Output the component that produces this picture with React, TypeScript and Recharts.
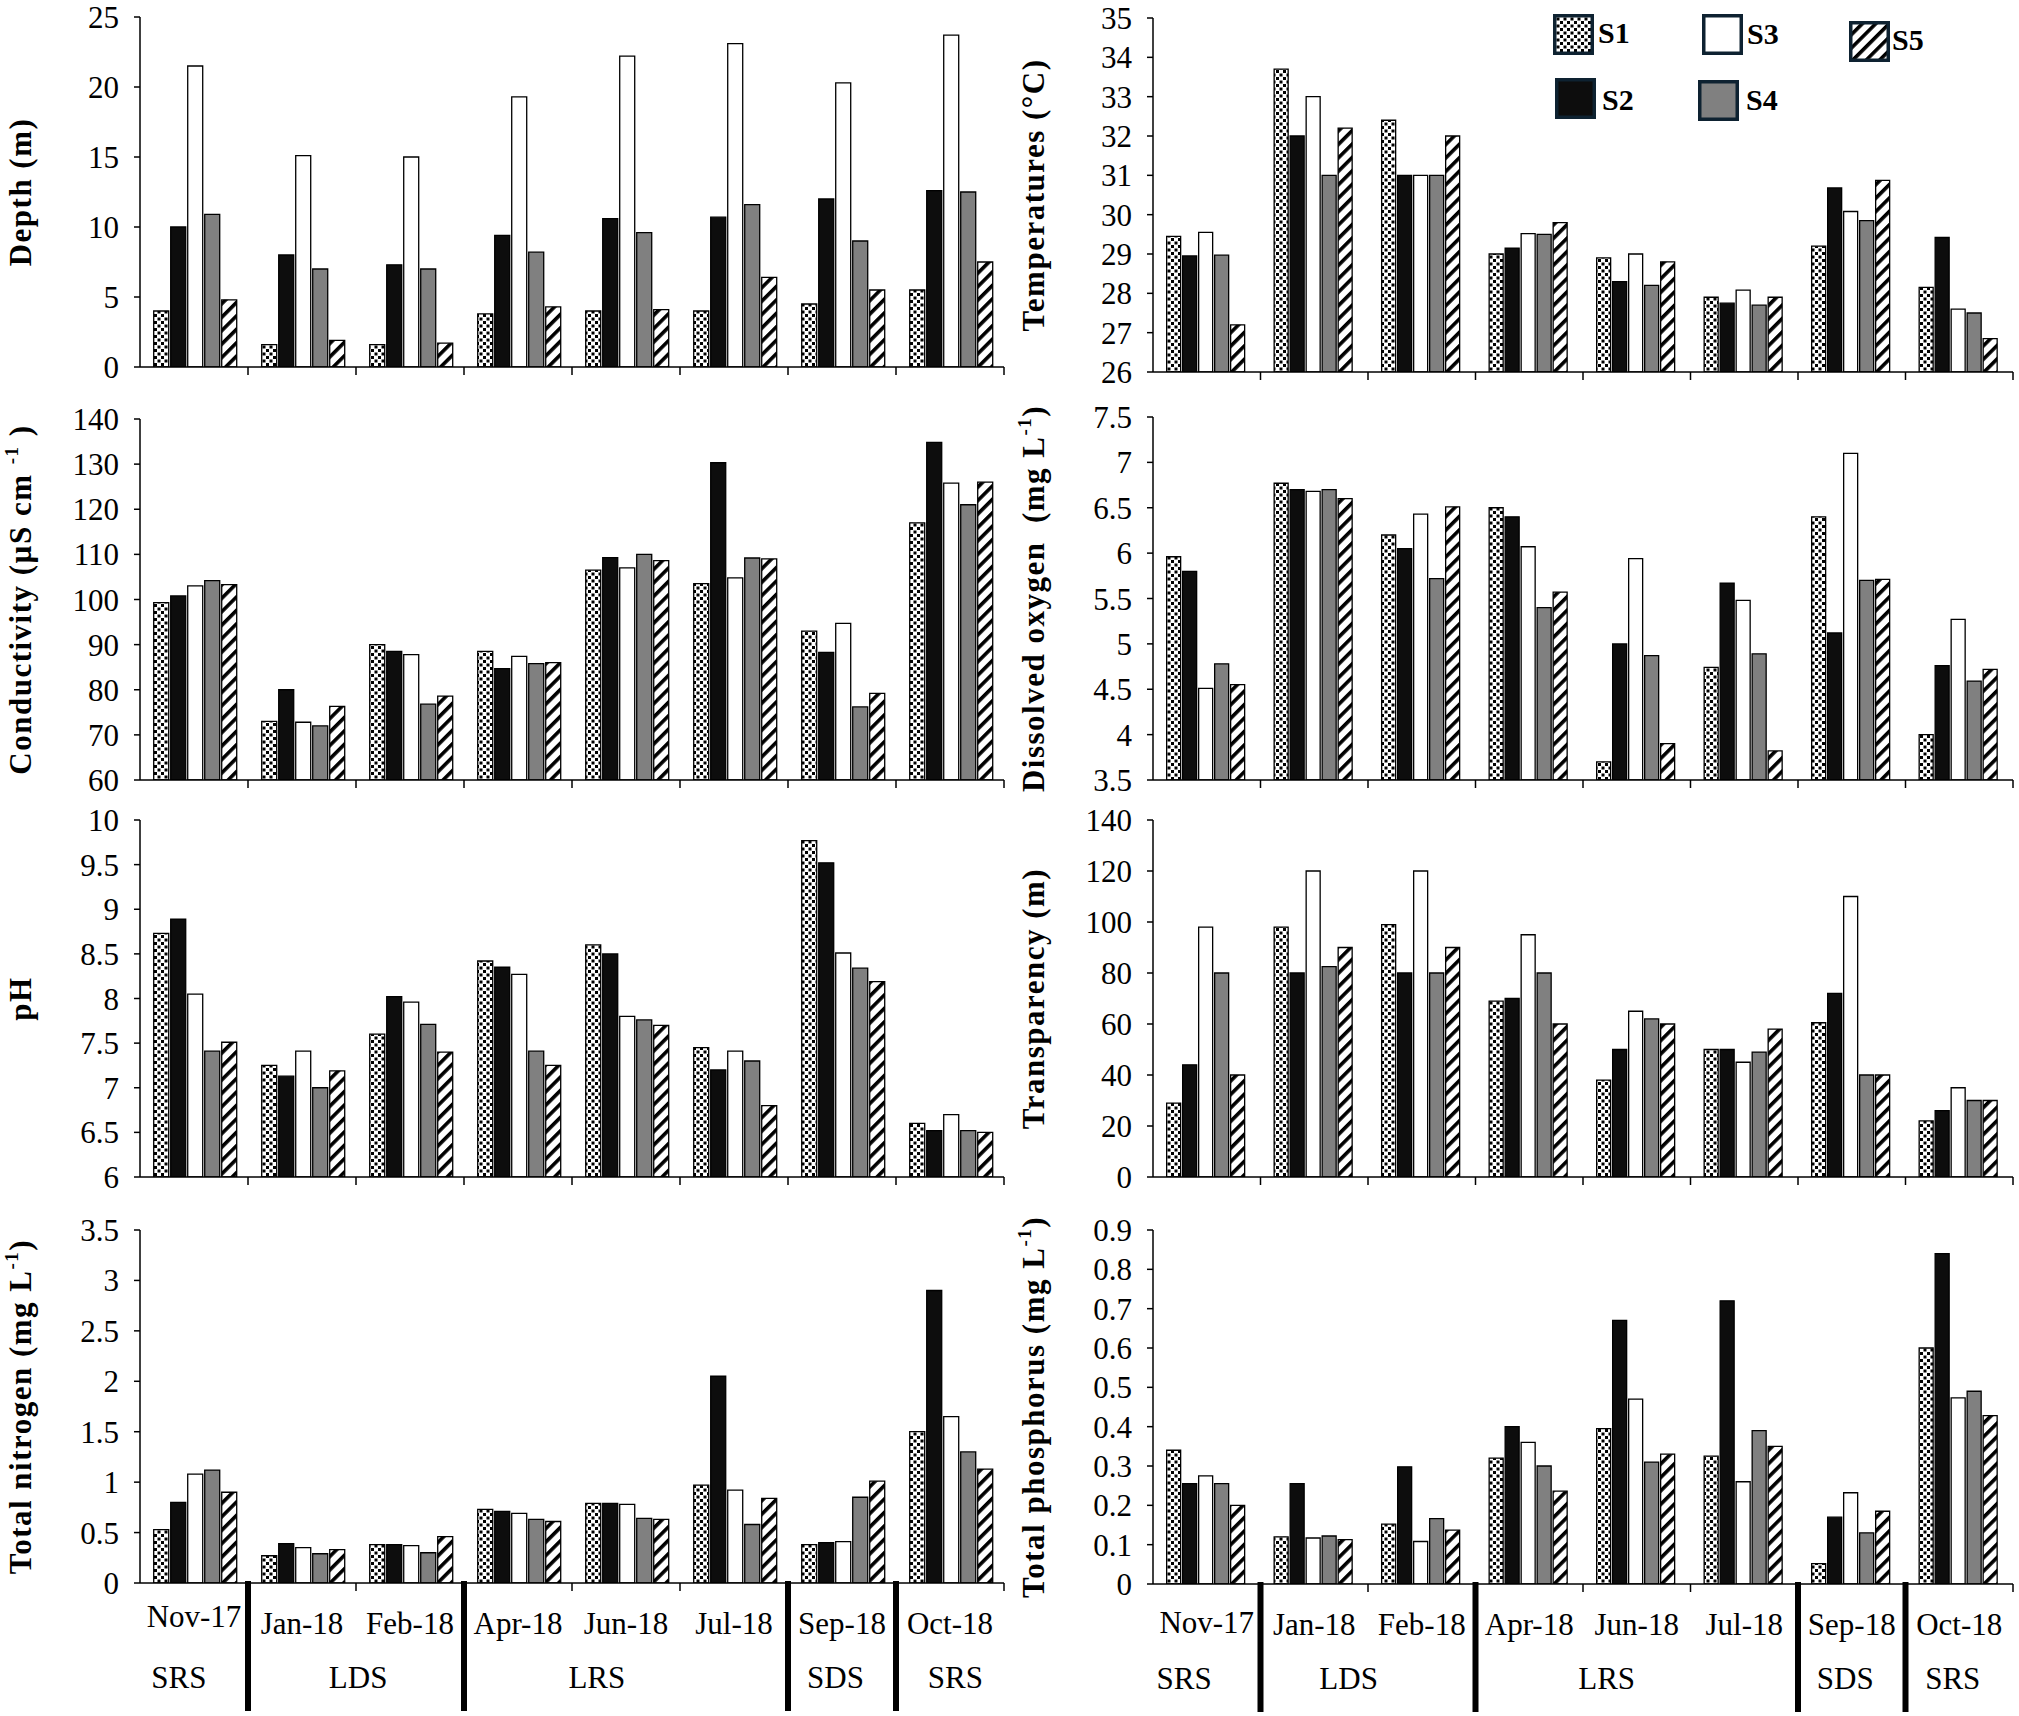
import React from 'react';
import { BarChart, Bar, XAxis, YAxis } from 'recharts';

const SERIF = '"Liberation Serif", "Times New Roman", serif';

const MONTHS = ['Nov-17', 'Jan-18', 'Feb-18', 'Apr-18', 'Jun-18', 'Jul-18', 'Sep-18', 'Oct-18'];
const SEASONS = ['SRS', 'LDS', 'LRS', 'SDS', 'SRS'];
const SEASON_POS_LEFT = [0.36, 2.02, 4.23, 6.44, 7.55];
const SEASON_POS_RIGHT = [0.29, 1.82, 4.22, 6.44, 7.44];
const SEPARATOR_BEFORE = [1, 3, 6, 7];
const SERIES = ['S1', 'S2', 'S3', 'S4', 'S5'];

// Depth (m)
const DEPTH_S1 = [4, 1.6, 1.6, 3.8, 4, 4, 4.5, 5.5];
const DEPTH_S2 = [10, 8, 7.3, 9.4, 10.6, 10.7, 12, 12.6];
const DEPTH_S3 = [21.5, 15.1, 15, 19.3, 22.2, 23.1, 20.3, 23.7];
const DEPTH_S4 = [10.9, 7, 7, 8.2, 9.6, 11.6, 9, 12.5];
const DEPTH_S5 = [4.8, 1.9, 1.7, 4.3, 4.1, 6.4, 5.5, 7.5];
const DEPTH_TICKS = [0, 5, 10, 15, 20, 25];

// Temperature (°C)
const TEMP_S1 = [29.45, 33.7, 32.4, 29, 28.9, 27.9, 29.2, 28.15];
const TEMP_S2 = [28.95, 32, 31, 29.15, 28.3, 27.75, 30.68, 29.42];
const TEMP_S3 = [29.55, 33, 31, 29.52, 29, 28.08, 30.08, 27.6];
const TEMP_S4 = [28.97, 31, 31, 29.5, 28.2, 27.7, 29.85, 27.5];
const TEMP_S5 = [27.2, 32.2, 32, 29.8, 28.8, 27.9, 30.87, 26.85];
const TEMP_TICKS = [26, 27, 28, 29, 30, 31, 32, 33, 34, 35];

// Conductivity (µS/cm)
const COND_S1 = [99.3, 73, 90, 88.5, 106.5, 103.5, 93, 117];
const COND_S2 = [100.8, 80, 88.5, 84.7, 109.3, 130.3, 88.3, 134.8];
const COND_S3 = [103, 72.8, 87.8, 87.4, 107, 104.8, 94.7, 125.8];
const COND_S4 = [104.2, 72, 76.8, 85.8, 110, 109.2, 76.2, 121];
const COND_S5 = [103.3, 76.3, 78.6, 86, 108.6, 109, 79.2, 126];
const COND_TICKS = [60, 70, 80, 90, 100, 110, 120, 130, 140];

// Dissolved oxygen (mg/L)
const DO_S1 = [5.96, 6.77, 6.2, 6.5, 3.7, 4.74, 6.4, 4.0];
const DO_S2 = [5.8, 6.7, 6.05, 6.4, 5.0, 5.67, 5.12, 4.76];
const DO_S3 = [4.51, 6.68, 6.43, 6.07, 5.94, 5.48, 7.1, 5.27];
const DO_S4 = [4.78, 6.7, 5.72, 5.4, 4.87, 4.89, 5.7, 4.59];
const DO_S5 = [4.55, 6.6, 6.51, 5.57, 3.9, 3.82, 5.71, 4.72];
const DO_TICKS = [3.5, 4, 4.5, 5, 5.5, 6, 6.5, 7, 7.5];

// pH
const PH_S1 = [8.73, 7.25, 7.6, 8.42, 8.6, 7.45, 9.77, 6.6];
const PH_S2 = [8.89, 7.13, 8.02, 8.35, 8.5, 7.2, 9.52, 6.52];
const PH_S3 = [8.05, 7.41, 7.96, 8.27, 7.8, 7.41, 8.51, 6.7];
const PH_S4 = [7.41, 7.0, 7.71, 7.41, 7.76, 7.3, 8.34, 6.52];
const PH_S5 = [7.51, 7.19, 7.4, 7.25, 7.7, 6.8, 8.19, 6.5];
const PH_TICKS = [6, 6.5, 7, 7.5, 8, 8.5, 9, 9.5, 10];

// Transparency (m)
const TRANS_S1 = [29, 98, 99, 69, 38, 50, 60.5, 22];
const TRANS_S2 = [44, 80, 80, 70, 50, 50, 72, 26];
const TRANS_S3 = [98, 120, 120, 95, 65, 45, 110, 35];
const TRANS_S4 = [80, 82.5, 80, 80, 62, 49, 40, 30];
const TRANS_S5 = [40, 90, 90, 60, 60, 58, 40, 30];
const TRANS_TICKS = [0, 20, 40, 60, 80, 100, 120, 140];

// Total nitrogen (mg/L)
const TN_S1 = [0.53, 0.27, 0.38, 0.73, 0.79, 0.97, 0.38, 1.5];
const TN_S2 = [0.8, 0.39, 0.38, 0.71, 0.79, 2.05, 0.4, 2.9];
const TN_S3 = [1.08, 0.35, 0.37, 0.69, 0.78, 0.92, 0.41, 1.65];
const TN_S4 = [1.12, 0.29, 0.3, 0.63, 0.64, 0.58, 0.85, 1.3];
const TN_S5 = [0.9, 0.33, 0.46, 0.61, 0.63, 0.84, 1.01, 1.13];
const TN_TICKS = [0, 0.5, 1, 1.5, 2, 2.5, 3, 3.5];

// Total phosphorus (mg/L)
const TP_S1 = [0.34, 0.12, 0.152, 0.32, 0.395, 0.325, 0.052, 0.6];
const TP_S2 = [0.255, 0.255, 0.298, 0.4, 0.67, 0.72, 0.17, 0.84];
const TP_S3 = [0.275, 0.117, 0.108, 0.36, 0.47, 0.26, 0.232, 0.473];
const TP_S4 = [0.255, 0.122, 0.166, 0.3, 0.31, 0.39, 0.13, 0.49];
const TP_S5 = [0.2, 0.113, 0.137, 0.236, 0.33, 0.35, 0.185, 0.428];
const TP_TICKS = [0, 0.1, 0.2, 0.3, 0.4, 0.5, 0.6, 0.7, 0.8, 0.9];

const SIDES = {
  left: { left: 0, width: 1010, yAxisWidth: 140, marginRight: 6, labelX: 20, seasonPos: SEASON_POS_LEFT, novNudge: -7 },
  right: { left: 1010, width: 1009, yAxisWidth: 143, marginRight: 6, labelX: 23, seasonPos: SEASON_POS_RIGHT, novNudge: -2 },
};

const TOP_PAD = 18;

function Patterns({ id }: { id: string }) {
  return (
    <defs>
      <pattern id={`dots-${id}`} patternUnits="userSpaceOnUse" width={7} height={7}>
        <rect width={7} height={7} fill="#fff" />
        <rect x={0} y={0} width={3} height={3} fill="#000" />
        <rect x={3.5} y={3.5} width={3} height={3} fill="#000" />
      </pattern>
      <pattern id={`hatch-${id}`} patternUnits="userSpaceOnUse" width={9.5} height={9.5} patternTransform="rotate(45)">
        <rect width={9.5} height={9.5} fill="#fff" />
        <rect width={3.6} height={9.5} fill="#000" />
      </pattern>
    </defs>
  );
}

function fills(id: string) {
  return [`url(#dots-${id})`, '#0d0d0d', '#ffffff', '#808080', `url(#hatch-${id})`];
}

function YLabel(props: any) {
  const { lx, ly, parts } = props;
  return (
    <text
      x={lx}
      y={ly}
      transform={`rotate(-90 ${lx} ${ly})`}
      textAnchor="middle"
      dominantBaseline="central"
      fontFamily={SERIF}
      fontWeight="bold"
      fontSize={31}
      letterSpacing={1.5}
      fill="#000"
      style={{ whiteSpace: 'pre' }}
    >
      {parts}
    </text>
  );
}

function MonthTick(props: any) {
  const { x, y, payload, index, band, bottom, seasonPos, novNudge } = props;
  const right = x + band / 2;
  return (
    <g>
      <line x1={right} x2={right} y1={y} y2={y + 8} stroke="#000" strokeWidth={1.5} />
      {bottom && (
        <text
          x={x}
          y={y + 40 + (index === 0 ? novNudge : 0)}
          textAnchor="middle"
          dominantBaseline="central"
          fontFamily={SERIF}
          fontSize={31}
          fill="#000"
        >
          {payload.value}
        </text>
      )}
      {bottom && SEPARATOR_BEFORE.includes(index) && (
        <line x1={x - band / 2} x2={x - band / 2} y1={y - 2} y2={y + 128} stroke="#000" strokeWidth={6} />
      )}
      {bottom &&
        index === 0 &&
        SEASONS.map((s, k) => (
          <text
            key={k}
            x={x - band / 2 + seasonPos[k] * band}
            y={y + 94}
            textAnchor="middle"
            dominantBaseline="central"
            fontFamily={SERIF}
            fontSize={31}
            fill="#000"
          >
            {s}
          </text>
        ))}
    </g>
  );
}

type PanelProps = {
  id: string;
  side: 'left' | 'right';
  plotTop: number;
  plotBottom: number;
  bottom?: boolean;
  series: number[][];
  domain: [number, number];
  ticks: number[];
  label: React.ReactNode;
};

function Panel({ id, side, plotTop, plotBottom, bottom, series, domain, ticks, label }: PanelProps) {
  const geo = SIDES[side];
  const top = plotTop - TOP_PAD;
  const xh = bottom ? 134 : 24;
  const height = plotBottom - top + xh;
  const data = MONTHS.map((m, i) => {
    const row: any = { month: m };
    SERIES.forEach((s, k) => {
      row[s] = series[k][i];
    });
    return row;
  });
  const band = (geo.width - geo.yAxisWidth - geo.marginRight) / MONTHS.length;
  const f = fills(id);
  const ly = (plotTop + plotBottom) / 2 - top;
  return (
    <div style={{ position: 'absolute', left: geo.left, top }}>
      <BarChart
        width={geo.width}
        height={height}
        data={data}
        margin={{ top: TOP_PAD, right: geo.marginRight, bottom: 0, left: 0 }}
        barCategoryGap="12.7%"
        barGap={2}
      >
        <Patterns id={id} />
        <XAxis
          dataKey="month"
          height={xh}
          interval={0}
          tickSize={0}
          tickMargin={0}
          tickLine={false}
          axisLine={{ stroke: '#000', strokeWidth: 1.5 }}
          tick={<MonthTick band={band} bottom={bottom} seasonPos={geo.seasonPos} novNudge={geo.novNudge} />}
        />
        <YAxis
          width={geo.yAxisWidth}
          domain={domain}
          ticks={ticks}
          interval={0}
          allowDataOverflow
          tickSize={6}
          tickMargin={15}
          axisLine={{ stroke: '#000', strokeWidth: 1.5 }}
          tickLine={{ stroke: '#000', strokeWidth: 1.5 }}
          tick={{ fontFamily: SERIF, fontSize: 31, fill: '#000' }}
          label={<YLabel lx={geo.labelX} ly={ly} parts={label} />}
        />
        {SERIES.map((s, k) => (
          <Bar key={s} dataKey={s} fill={f[k]} stroke="#000" strokeWidth={1.3} isAnimationActive={false} />
        ))}
      </BarChart>
    </div>
  );
}

const sup = (txt: string, after: string) => [
  <tspan key="a" dy={-9} fontSize={19}>{txt}</tspan>,
  <tspan key="b" dy={9}>{after}</tspan>,
];

const LEGEND_ITEMS = [
  { k: 0, bx: 1553, by: 14, tx: 1598, ty: 33 },
  { k: 2, bx: 1702, by: 14, tx: 1747, ty: 34 },
  { k: 4, bx: 1849, by: 21, tx: 1892, ty: 40 },
  { k: 1, bx: 1555, by: 78, tx: 1602, ty: 100 },
  { k: 3, bx: 1698, by: 80, tx: 1746, ty: 100 },
];

function Legend() {
  const f = fills('lg');
  return (
    <>
      {LEGEND_ITEMS.map((it) => (
        <React.Fragment key={it.k}>
          <svg width={41} height={41} style={{ position: 'absolute', left: it.bx, top: it.by }}>
            <Patterns id={`lg${it.k}`} />
            <rect
              x={1.75}
              y={1.75}
              width={37.5}
              height={37.5}
              fill={it.k === 0 ? `url(#dots-lg${it.k})` : it.k === 4 ? `url(#hatch-lg${it.k})` : f[it.k]}
              stroke="#0e2231"
              strokeWidth={3.5}
            />
          </svg>
          <div
            style={{
              position: 'absolute',
              left: it.tx,
              top: it.ty - 18,
              height: 36,
              lineHeight: '36px',
              fontFamily: SERIF,
              fontWeight: 'bold',
              fontSize: 30,
              color: '#000',
            }}
          >
            {SERIES[it.k]}
          </div>
        </React.Fragment>
      ))}
    </>
  );
}

export default function App() {
  return (
    <div
      style={{
        position: 'absolute',
        left: 0,
        top: 0,
        width: 2019,
        height: 1716,
        background: '#fff',
        overflow: 'hidden',
      }}
    >
      <Panel id="depth" side="left" plotTop={17} plotBottom={367}
        series={[DEPTH_S1, DEPTH_S2, DEPTH_S3, DEPTH_S4, DEPTH_S5]} domain={[0, 25]} ticks={DEPTH_TICKS}
        label="Depth (m)" />
      <Panel id="temp" side="right" plotTop={18} plotBottom={372}
        series={[TEMP_S1, TEMP_S2, TEMP_S3, TEMP_S4, TEMP_S5]} domain={[26, 35]} ticks={TEMP_TICKS}
        label="Temperatures (°C)" />
      <Panel id="cond" side="left" plotTop={419} plotBottom={780}
        series={[COND_S1, COND_S2, COND_S3, COND_S4, COND_S5]} domain={[60, 140]} ticks={COND_TICKS}
        label={[<tspan key="m">Conductivity (µS cm </tspan>, ...sup('-1', ' )')]} />
      <Panel id="do" side="right" plotTop={417} plotBottom={780}
        series={[DO_S1, DO_S2, DO_S3, DO_S4, DO_S5]} domain={[3.5, 7.5]} ticks={DO_TICKS}
        label={[<tspan key="m">Dissolved oxygen  (mg L</tspan>, ...sup('-1', ')')]} />
      <Panel id="ph" side="left" plotTop={820} plotBottom={1177}
        series={[PH_S1, PH_S2, PH_S3, PH_S4, PH_S5]} domain={[6, 10]} ticks={PH_TICKS}
        label="pH" />
      <Panel id="trans" side="right" plotTop={820} plotBottom={1177}
        series={[TRANS_S1, TRANS_S2, TRANS_S3, TRANS_S4, TRANS_S5]} domain={[0, 140]} ticks={TRANS_TICKS}
        label="Transparency (m)" />
      <Panel id="tn" side="left" plotTop={1230} plotBottom={1583} bottom
        series={[TN_S1, TN_S2, TN_S3, TN_S4, TN_S5]} domain={[0, 3.5]} ticks={TN_TICKS}
        label={[<tspan key="m">Total nitrogen (mg L</tspan>, ...sup('-1', ')')]} />
      <Panel id="tp" side="right" plotTop={1230} plotBottom={1584} bottom
        series={[TP_S1, TP_S2, TP_S3, TP_S4, TP_S5]} domain={[0, 0.9]} ticks={TP_TICKS}
        label={[<tspan key="m">Total phosphorus (mg L</tspan>, ...sup('-1', ')')]} />
      <Legend />
    </div>
  );
}
